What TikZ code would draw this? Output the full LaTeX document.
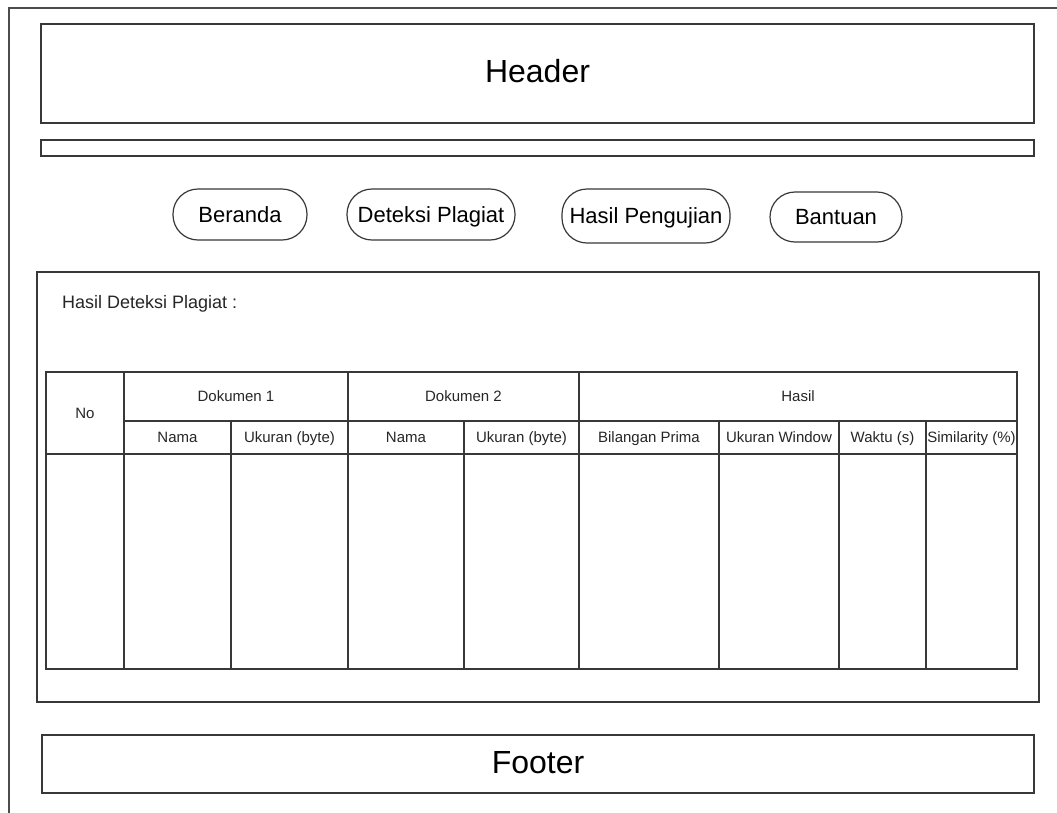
\documentclass[tikz,border=0pt]{standalone}
\usepackage{fontspec}
\setmainfont{Liberation Sans}
\begin{document}
% page layout sketch: header, bar, menu buttons, result table, footer
\tikzset{
  frameline/.style={draw=black!78, line width=1.2pt},
  panel/.style={frameline, rectangle, inner sep=0pt, outer sep=0pt},
  bigtext/.style={font=\fontsize{32}{34}\selectfont, text height=20pt, text depth=3pt},
  menubtn/.style={frameline, rectangle, rounded corners=25pt, inner sep=0pt, outer sep=0pt,
    font=\fontsize{22}{24}\selectfont, text height=17pt, text depth=2pt},
  cellbox/.style={frameline, rectangle, inner sep=0pt, outer sep=0pt,
    font=\fontsize{15}{17}\selectfont, text=black!85, text height=13pt, text depth=2.3pt},
}
% box by its corners (x1,y1) -- (x2,y2), y measured downwards
\newcommand\mkbox[7]{\node[#1, minimum width={(#5-#3)*1pt}, minimum height={(#6-#4)*1pt}] (#2) at ({(#3+#5)/2},{(#4+#6)/2}) {#7};}
\begin{tikzpicture}[x=1pt, y=-1pt]
\useasboundingbox (0,0) rectangle (1057,812);

% outer page frame
\coordinate (pgbl) at (9,830);
\coordinate (pgtl) at (9,8);
\coordinate (pgtr) at (1070,8);
\draw[frameline, draw=black!70] (pgbl) -- (pgtl) -- (pgtr);

% header and navigation bar
\mkbox{panel, bigtext, text depth=3pt}{header}{41}{24}{1034}{123}{Header}
\mkbox{panel}{navbar}{41}{140}{1034}{156}{}

% menu buttons
\mkbox{menubtn}{beranda}{173}{189}{307}{240}{Beranda}
\mkbox{menubtn}{deteksi}{347}{189}{515}{240}{Deteksi Plagiat}
\mkbox{menubtn}{pengujian}{562}{189}{730}{243}{Hasil Pengujian}
\mkbox{menubtn}{bantuan}{770}{192}{902}{242}{Bantuan}

% content panel
\mkbox{panel}{content}{37}{272}{1039}{702}{}
\node[anchor=base west, inner sep=0pt, font=\fontsize{18}{20}\selectfont, text=black!85] (title) at (62,308) {Hasil Deteksi Plagiat :};

% result table: header rows
\mkbox{cellbox}{hno}{46}{372}{124}{454}{No}
\mkbox{cellbox}{hdoka}{124}{372}{348}{421}{Dokumen 1}
\mkbox{cellbox}{hdokb}{348}{372}{579}{421}{Dokumen 2}
\mkbox{cellbox}{hhasil}{579}{372}{1017}{421}{Hasil}
\mkbox{cellbox}{hnamaa}{124}{421}{231}{454}{Nama}
\mkbox{cellbox}{hukra}{231}{421}{348}{454}{Ukuran (byte)}
\mkbox{cellbox}{hnamab}{348}{421}{464}{454}{Nama}
\mkbox{cellbox}{hukrb}{464}{421}{579}{454}{Ukuran (byte)}
\mkbox{cellbox}{hprima}{579}{421}{719}{454}{Bilangan Prima}
\mkbox{cellbox}{hwindow}{719}{421}{839}{454}{Ukuran Window}
\mkbox{cellbox}{hwaktu}{839}{421}{926}{454}{Waktu (s)}
\mkbox{cellbox}{hsim}{926}{421}{1017}{454}{Similarity (\%)}

% result table: empty body columns
\mkbox{cellbox}{bno}{46}{454}{124}{669}{}
\mkbox{cellbox}{bnamaa}{124}{454}{231}{669}{}
\mkbox{cellbox}{bukra}{231}{454}{348}{669}{}
\mkbox{cellbox}{bnamab}{348}{454}{464}{669}{}
\mkbox{cellbox}{bukrb}{464}{454}{579}{669}{}
\mkbox{cellbox}{bprima}{579}{454}{719}{669}{}
\mkbox{cellbox}{bwindow}{719}{454}{839}{669}{}
\mkbox{cellbox}{bwaktu}{839}{454}{926}{669}{}
\mkbox{cellbox}{bsim}{926}{454}{1017}{669}{}

% footer
\mkbox{panel, bigtext, text height=21pt}{footer}{42}{735}{1034}{793}{Footer}
\end{tikzpicture}
\end{document}
